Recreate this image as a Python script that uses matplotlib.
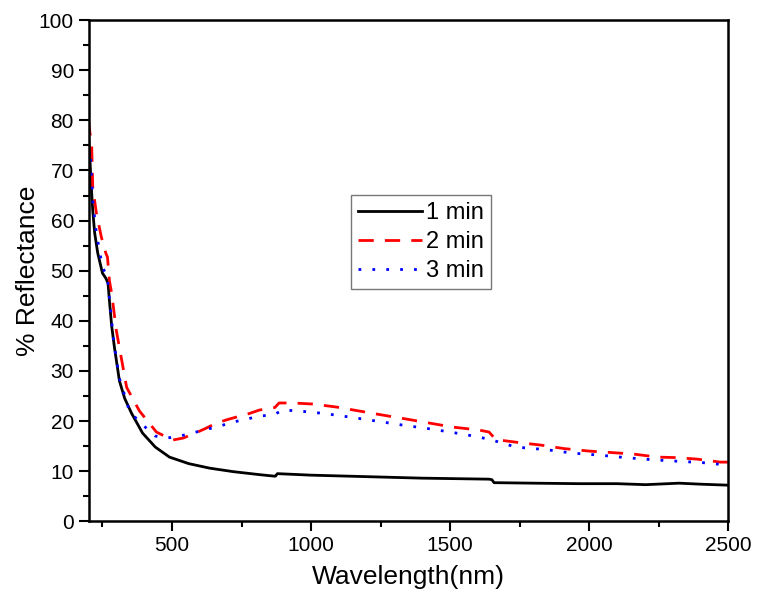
import matplotlib
matplotlib.use("Agg")
import matplotlib.pyplot as plt
from matplotlib.ticker import MultipleLocator

plt.rcParams['font.family'] = ['Liberation Sans', 'DejaVu Sans']

# 1 min (black, solid)
wl_1 = [200, 205, 210, 215, 222, 233, 250, 262, 270, 275, 283, 293, 311, 330, 355,
        394, 440, 491, 560, 635, 720, 815, 868, 872, 879, 1000, 1200, 1400, 1640,
        1650, 1658, 1800, 1964, 2100, 2203, 2323, 2400, 2500]
r_1 = [77.0, 72.0, 66.5, 62.0, 57.5, 53.5, 49.5, 48.5, 47.5, 44.0, 39.0, 34.7, 28.0,
       24.5, 21.5, 17.6, 14.8, 12.8, 11.5, 10.6, 9.9, 9.3, 9.0, 9.0, 9.5, 9.2, 8.9,
       8.6, 8.4, 8.3, 7.7, 7.6, 7.5, 7.5, 7.3, 7.6, 7.4, 7.2]

# 2 min (red, dashed)
wl_2 = [200, 205, 211, 215, 228, 246, 262, 268, 275, 283, 300, 337, 383, 444, 502,
        540, 580, 620, 660, 700, 732, 778, 815, 850, 870, 885, 933, 1005, 1090, 1173,
        1256, 1342, 1425, 1508, 1604, 1640, 1664, 1748, 1826, 1910, 2000, 2083, 2161,
        2245, 2316, 2388, 2472, 2500]
r_2 = [80.0, 77.5, 75.4, 66.7, 61.5, 56.7, 53.5, 52.7, 48.0, 45.5, 38.0, 26.7, 22.0,
       17.8, 16.2, 16.6, 17.5, 18.5, 19.6, 20.3, 20.8, 21.5, 22.2, 22.5, 22.7, 23.6,
       23.6, 23.4, 22.8, 22.0, 21.2, 20.4, 19.6, 18.8, 18.2, 17.8, 16.3, 15.7, 15.2,
       14.5, 14.0, 13.7, 13.4, 12.8, 12.7, 12.4, 11.8, 11.8]

# 3 min (blue, dotted)
wl_3 = [200, 206, 210, 215, 228, 250, 268, 275, 290, 311, 347, 383, 440, 480, 520,
        574, 620, 660, 720, 770, 815, 861, 875, 897, 958, 1048, 1138, 1234, 1328,
        1432, 1533, 1604, 1651, 1736, 1844, 1940, 2036, 2131, 2221, 2311, 2407, 2500]
r_3 = [73.0, 74.0, 69.4, 64.0, 57.5, 50.7, 48.7, 44.5, 36.0, 28.5, 22.0, 19.8, 17.0,
       16.6, 16.9, 17.6, 18.3, 18.8, 19.8, 20.4, 21.0, 21.2, 21.5, 22.2, 22.0, 21.5,
       20.8, 20.0, 19.2, 18.4, 17.5, 16.8, 16.2, 14.8, 14.3, 13.6, 13.2, 12.7, 12.3,
       12.0, 11.7, 11.2]

fig = plt.figure(figsize=(7.57, 5.91), dpi=100)
ax = fig.add_axes([0.117, 0.118, 0.845, 0.848])

ax.plot(wl_1, r_1, color='black', lw=2.0, ls='-', label='1 min')
ax.plot(wl_2, r_2, color='red', lw=2.0, ls=(0, (5.5, 4)), label='2 min')
ax.plot(wl_3, r_3, color='blue', lw=2.0, ls=(0, (1, 4)), label='3 min')

ax.set_xlim(200, 2500)
ax.set_ylim(0, 100)
ax.xaxis.set_major_locator(MultipleLocator(500))
ax.xaxis.set_minor_locator(MultipleLocator(250))
ax.yaxis.set_major_locator(MultipleLocator(10))
ax.yaxis.set_minor_locator(MultipleLocator(5))
ax.tick_params(which='major', direction='out', length=7, width=1.5, labelsize=15)
ax.tick_params(which='minor', direction='out', length=4, width=1.5)
for sp in ax.spines.values():
    sp.set_linewidth(1.8)

ax.set_xlabel('Wavelength(nm)', fontsize=19, labelpad=7)
ax.set_ylabel('% Reflectance', fontsize=19, labelpad=-1)

leg = ax.legend(loc='center', bbox_to_anchor=(0.52, 0.557), fontsize=17,
                frameon=True, fancybox=False, handlelength=2.7, handletextpad=0.2,
                borderpad=0.3, labelspacing=0.3, borderaxespad=0)
leg.get_frame().set_edgecolor('#555555')
leg.get_frame().set_linewidth(1.0)

fig.savefig('out.png', dpi=100)
